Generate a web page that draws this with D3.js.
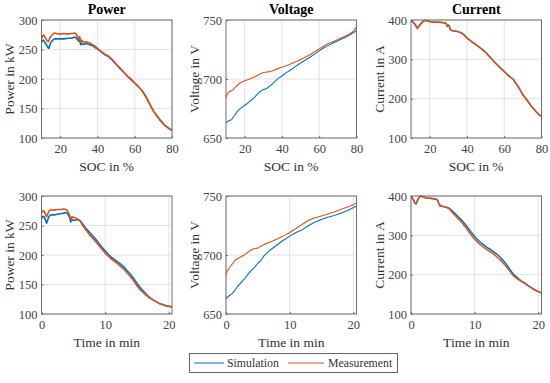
<!DOCTYPE html>
<html><head><meta charset="utf-8">
<script src="https://cdn.jsdelivr.net/npm/d3@7"></script>
<style>body{margin:0;background:#fff}svg{display:block}</style>
</head><body>
<script>
// ---------- DATA ----------
const titles = ["Power", "Voltage", "Current"];
const yLabels = ["Power in kW", "Voltage in V", "Current in A"];
const xLabels = ["SOC in %", "Time in min"];
const seriesNames = ["Simulation", "Measurement"];
const socTicks = [20, 40, 60, 80];
const timeTicks = [0, 10, 20];
const powerTicks = [100, 150, 200, 250, 300];
const voltageTicks = [650, 700, 750];
const currentTicks = [100, 200, 300, 400];

// Power vs SOC
const powerSocX = [10,10.5,11,11.5,12,12.5,13,13.5,14,14.5,15,16,17,18,20,22,24,26,28,28.5,29,29.5,30,30.5,31,31.5,32,33,34,35,36,37,38,39,40,42,44,46,48,50,52,54,56,58,60,62,64,65,66,68,70,72,74,76,78,80];
const powerSocMeas = [268,272,275,273,270,268,265,263,266,270,272,276,278,277,276,277,276,277,278,276,274,270,268,272,262,266,264,262,263,262,261,259,257,255,252,247,242,239,233,225,219,212,205,200,193,187,180,175,170,158,146,137,129,122,117,113];
const powerSocSim  = [262,265,266,264,261,259,256,253,252,258,262,266,268,268,268,268,269,269,271,270,268,266,264,268,258,261,259,259,260,259,258,257,255,253,251,246,241,238,232,225,218,212,205,199,193,187,180,175,170,158,146,137,129,122,117,113];

// Power vs time
const powerTimeX = [0,0.2,0.4,0.6,0.8,1.0,1.2,1.5,1.8,2,2.5,3,3.5,3.8,4.0,4.2,4.4,4.6,4.8,5,5.3,5.6,6,6.5,7,7.5,8,8.5,9,9.5,10,10.5,11,11.5,12,12.5,13,13.5,14,14.5,15,15.5,16,16.5,17,17.5,18,18.5,19,19.5,20,20.5];
const powerTimeMeas = [271,274,275,270,265,270,275,277,276,276,277,277,278,277,276,272,268,260,265,264,263,261,259,250,242,235,229,223,216,210,203,198,193,189,185,180,175,169,163,156,148,141,136,131,127,124,121,118,116,114,113,112];
const powerTimeSim  = [262,265,265,260,254,260,266,268,268,268,269,270,271,272,271,268,264,256,260,259,259,260,259,252,245,239,233,227,220,213,207,201,196,192,188,184,179,173,167,160,152,145,139,133,128,124,121,118,116,114,113,112];

// Voltage vs SOC
const voltSocX = [10,11,12,13,14,15,16,17,18,20,22,25,28,30,32,33,35,38,40,42,45,48,50,52,55,58,60,62,65,68,70,72,75,78,80];
const voltSocMeas = [684,688,689.5,690,691,693,694.5,696,697,698.5,699.5,701.5,704,705.5,706,706,707,709,710,711,713,715,716.5,718,720.5,723.5,725.5,727.5,730,732,733.5,735,737,740,744];
const voltSocSim  = [663,664,665,665.5,668,670,672.5,674,675.5,677.5,680,684,689,691,692,693.5,696,700.5,702.5,705,708,711.5,713.5,715.5,718.5,721.5,724,726,728.5,731,732.5,734,736,739,741];

// Voltage vs time
const voltTimeX = [0,0.2,0.5,1,1.5,2,2.5,3,3.5,4,4.5,5,5.5,6,7,8,9,10,11,12,13,14,15,16,17,18,19,20,20.5];
const voltTimeMeas = [683,686.5,689,692.5,695.8,697.5,699,700.5,702.5,704.5,705.5,705.8,707.5,709,711,713.5,716,719,722.5,726,729.5,731.5,733,734.7,736.5,738.5,740.5,742.5,744];
const voltTimeSim  = [663,664,665.5,667.5,671,674.5,677.5,680.5,684,687,689.5,693,695.5,699.5,704.5,708.5,712.5,716,719,721.5,725,728,730,732,733.5,735.3,737.5,740,741.5];

// Current vs SOC
const currSocX = [10,10.5,11,12,12.5,13,13.5,14,14.5,15,16,17,18,20,22,25,28,29,29.5,30,30.5,31,32,33,35,37,38,40,42,45,48,50,52,55,58,60,62,65,68,70,72,75,78,80];
const currSocMeas = [398,397,395,390,386,381,378,383,386,389,394,398,399,396,395,394,393,390,383,387,385,376,373,372,371,367,364,354,347,337,326,318,308,292,278,269,260,248,227,210,198,178,162,154];
const currSocSim  = [398,397,395,390,386,382,379,383,386,389,394,398,399,396,395,394,393,390,384,387,385,377,373,372,371,367,364,355,347,337,326,318,308,292,278,269,260,248,227,210,198,178,162,154];

// Current vs time
const currTimeX = [0,0.2,0.4,0.6,0.8,1.0,1.2,1.5,2,2.5,3,3.5,4,4.2,4.4,4.6,4.8,5,5.5,6,6.5,7,7.5,8,8.5,9,9.5,10,10.5,11,11.5,12,12.5,13,13.5,14,14.5,15,15.5,16,16.5,17,17.5,18,18.5,19,19.5,20,20.5];
const currTimeMeas = [398,395,390,382,380,388,395,400,397,395,394,393,392,388,380,374,376,373,372,367,358,349,341,332,322,311,300,290,282,275,269,263,258,252,245,238,229,220,209,199,192,186,181,176,171,166,161,157,153];
const currTimeSim  = [398,395,390,382,380,388,395,400,397,395,394,393,392,388,380,374,376,373,372,369,362,354,346,338,328,318,307,297,288,281,275,269,264,258,252,245,236,226,214,203,195,188,182,177,171,166,161,157,153];

// ---------- LAYOUT ----------
const W = 550, H = 383;
const colors = {sim: "#0072BD", meas: "#D95319"};
const font = "'Liberation Serif', 'Times New Roman', serif";
const colLeft = [41.5, 226, 411];
const rowTop = [20, 196];
const pw = 130.5, ph = 118;

const svg = d3.select("body").append("svg").attr("width", W).attr("height", H)
  .attr("font-family", font);

const panels = [
  {r:0,c:0,xd:[10,80],xt:socTicks,yd:[100,300],yt:powerTicks,x:powerSocX,s:powerSocSim,m:powerSocMeas,sw:1.6},
  {r:0,c:1,xd:[10,80],xt:socTicks,yd:[650,750],yt:voltageTicks,x:voltSocX,s:voltSocSim,m:voltSocMeas,sw:1.1},
  {r:0,c:2,xd:[10,80],xt:socTicks,yd:[100,400],yt:currentTicks,x:currSocX,s:currSocSim,m:currSocMeas,sw:1.5},
  {r:1,c:0,xd:[0,20.5],xt:timeTicks,yd:[100,300],yt:powerTicks,x:powerTimeX,s:powerTimeSim,m:powerTimeMeas,sw:1.6},
  {r:1,c:1,xd:[0,20.5],xt:timeTicks,yd:[650,750],yt:voltageTicks,x:voltTimeX,s:voltTimeSim,m:voltTimeMeas,sw:1.1},
  {r:1,c:2,xd:[0,20.5],xt:timeTicks,yd:[100,400],yt:currentTicks,x:currTimeX,s:currTimeSim,m:currTimeMeas,sw:1.5},
];

panels.forEach(p => {
  const x0 = colLeft[p.c], y0 = rowTop[p.r];
  const g = svg.append("g").attr("transform", `translate(${x0},${y0})`);
  const xs = d3.scaleLinear().domain(p.xd).range([0, pw]);
  const ys = d3.scaleLinear().domain(p.yd).range([ph, 0]);

  // grid
  g.append("g").selectAll("line").data(p.xt).join("line")
    .attr("x1", d => xs(d)).attr("x2", d => xs(d)).attr("y1", 0).attr("y2", ph)
    .attr("stroke", "#e2e2e2").attr("stroke-width", 1);
  g.append("g").selectAll("line").data(p.yt).join("line")
    .attr("y1", d => ys(d)).attr("y2", d => ys(d)).attr("x1", 0).attr("x2", pw)
    .attr("stroke", "#e2e2e2").attr("stroke-width", 1);

  // axes (ticks inward)
  const xa = d3.axisBottom(xs).tickValues(p.xt).tickSize(-2).tickPadding(6).tickFormat(d3.format("d"));
  const ya = d3.axisLeft(ys).tickValues(p.yt).tickSize(-2).tickPadding(4).tickFormat(d3.format("d"));
  const gx = g.append("g").attr("transform", `translate(0,${ph})`).call(xa);
  const gy = g.append("g").call(ya);
  [gx, gy].forEach(a => {
    a.attr("font-family", font).attr("font-size", 12.5);
    a.select(".domain").remove();
    a.selectAll("line").attr("stroke", "#666");
    a.selectAll("text").attr("fill", "#444");
  });

  // lines
  const line = d3.line().x((d, i) => xs(p.x[i])).y(d => ys(d));
  g.append("path").datum(p.s).attr("d", line).attr("fill", "none")
    .attr("stroke", colors.sim).attr("stroke-width", p.sw).attr("stroke-linejoin", "round");
  g.append("path").datum(p.m).attr("d", line).attr("fill", "none")
    .attr("stroke", colors.meas).attr("stroke-width", p.sw).attr("stroke-linejoin", "round");

  // box
  g.append("rect").attr("width", pw).attr("height", ph).attr("fill", "none")
    .attr("stroke", "#6e6e6e").attr("stroke-width", 1);

  // y label
  g.append("text").attr("transform", `translate(${-32},${ph/2}) rotate(-90)`)
    .attr("text-anchor", "middle").attr("dominant-baseline", "central")
    .attr("font-size", 13.5).attr("fill", "#333").text(yLabels[p.c]);
  // x label
  g.append("text").attr("x", pw/2).attr("y", ph + 28)
    .attr("text-anchor", "middle").attr("dominant-baseline", "central")
    .attr("font-size", 13.5).attr("fill", "#333").text(xLabels[p.r]);
  // title
  if (p.r === 0) {
    g.append("text").attr("x", pw/2).attr("y", -10.5)
      .attr("text-anchor", "middle").attr("dominant-baseline", "central")
      .attr("font-size", 14).attr("font-weight", "bold").attr("fill", "#000").text(titles[p.c]);
  }
});

// legend
const lg = svg.append("g");
lg.append("rect").attr("x", 189.5).attr("y", 353.5).attr("width", 208).attr("height", 19)
  .attr("fill", "#fff").attr("stroke", "#666").attr("stroke-width", 1);
const legItems = [
  {name: seriesNames[0], color: colors.sim, x1: 194, x2: 224, tx: 227},
  {name: seriesNames[1], color: colors.meas, x1: 288, x2: 324, tx: 328},
];
legItems.forEach(it => {
  lg.append("line").attr("x1", it.x1).attr("x2", it.x2).attr("y1", 363).attr("y2", 363)
    .attr("stroke", it.color).attr("stroke-width", 1);
  lg.append("text").attr("x", it.tx).attr("y", 363).attr("dominant-baseline", "central")
    .attr("font-size", 11.8).attr("fill", "#333").text(it.name);
});
</script>
</body></html>
